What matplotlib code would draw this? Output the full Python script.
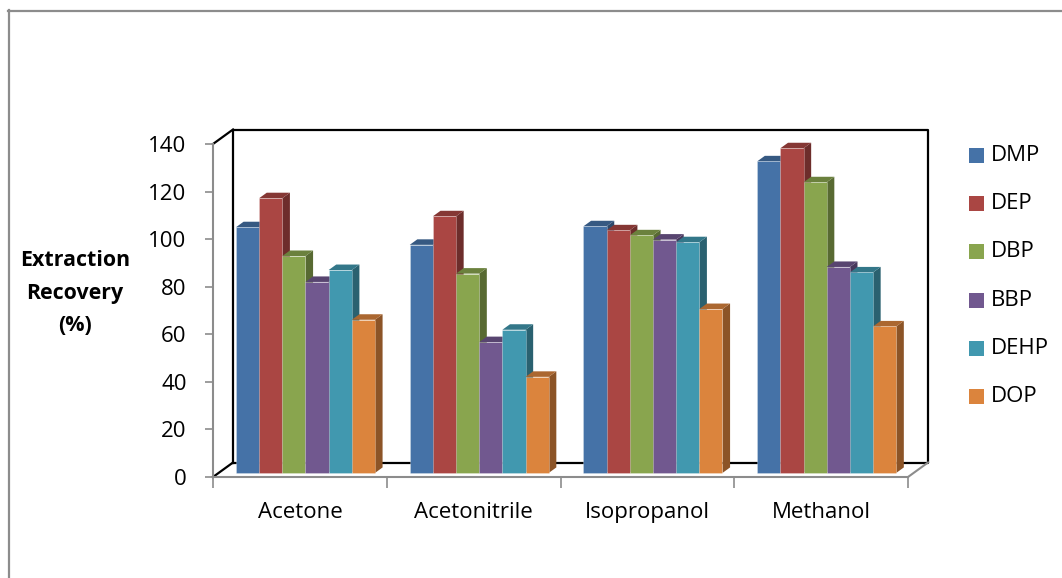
import numpy as np
import matplotlib.pyplot as plt
from matplotlib.patches import Polygon, Rectangle
from matplotlib.lines import Line2D
import matplotlib.colors as mcolors

plt.rcParams['font.family'] = ['Open Sans', 'DejaVu Sans']

solvents = ['Acetone', 'Acetonitrile', 'Isopropanol', 'Methanol']
compounds = ['DMP', 'DEP', 'DBP', 'BBP', 'DEHP', 'DOP']
recovery = {
    'DMP':  [103.3, 95.9, 103.7, 131.0],
    'DEP':  [115.5, 107.9, 102.0, 136.5],
    'DBP':  [91.2, 83.8, 99.9, 122.2],
    'BBP':  [80.3, 55.0, 98.1, 86.6],
    'DEHP': [85.3, 60.2, 97.0, 84.3],
    'DOP':  [64.4, 40.4, 68.9, 61.6],
}
colors = ['#4572A7', '#AA4643', '#89A54E', '#71588F', '#4198AF', '#DB843D']
yticks = [0, 20, 40, 60, 80, 100, 120, 140]

W, H = 1062, 578
fig = plt.figure(figsize=(W / 100, H / 100), dpi=100)

# front plane of the 3D box, in pixels
x_left, x_right, y_bot, y_top = 213, 908, 477, 144
ax = fig.add_axes([x_left / W, (H - y_bot) / H, (x_right - x_left) / W, (y_bot - y_top) / H])
ax.set_xlim(0, 4)
ax.set_ylim(0, 140)

px_x = (x_right - x_left) / 4.0
px_y = (y_bot - y_top) / 140.0
DX = 20 / px_x      # depth offset of the back wall
DY = 14.5 / px_y

grey = '#8c8c8c'
for s in ['top', 'right']:
    ax.spines[s].set_visible(False)
for s in ['left', 'bottom']:
    ax.spines[s].set_color(grey)
    ax.spines[s].set_linewidth(1.5)

ax.set_yticks(yticks)
ax.tick_params(axis='y', direction='out', length=6, width=1.2, color=grey, pad=13,
               labelsize=16)
ax.set_xticks([0, 1, 2, 3, 4])
ax.set_xticklabels([])
ax.tick_params(axis='x', which='major', direction='out', length=8, width=1.2, color=grey)
ax.set_xticks([0.5, 1.5, 2.5, 3.5], minor=True)
ax.set_xticklabels(solvents, minor=True)
ax.tick_params(axis='x', which='minor', length=0, pad=18, labelsize=16)

# back wall and floor edges
kw = dict(color='black', lw=1.6, clip_on=False, zorder=1)
ax.plot([DX, DX, 4 + DX, 4 + DX, DX], [DY, 140 + DY, 140 + DY, DY, DY], **kw)
ax.plot([0, DX], [0, DY], **kw)
ax.plot([0, DX], [140, 140 + DY], **kw)
ax.plot([4, 4 + DX], [0, DY], color=grey, lw=1.5, clip_on=False, zorder=1)


def shade(c, f):
    r, g, b = mcolors.to_rgb(c)
    return (r * f, g * f, b * f)


# bars: front face, top and right side
fx, fy = 0.28 * DX, 0.28 * DY
bx, by = 0.38 * DX, 0.38 * DY
gap = 0.1
w = (1 - 2 * gap) / len(compounds)
for ci in range(len(solvents)):
    for i, name in enumerate(compounds):
        v = recovery[name][ci]
        c = colors[i]
        x0 = ci + gap + i * w + fx
        x1 = x0 + w
        z = 2 + i
        ax.add_patch(Polygon([(x1, fy), (x1 + bx, fy + by), (x1 + bx, v + fy + by), (x1, v + fy)],
                             closed=True, fc=shade(c, 0.64), ec='none', clip_on=False, zorder=z))
        ax.add_patch(Polygon([(x0, v + fy), (x1, v + fy), (x1 + bx, v + fy + by), (x0 + bx, v + fy + by)],
                             closed=True, fc=shade(c, 0.78), ec='none', clip_on=False, zorder=z))
        ax.add_patch(Rectangle((x0, fy), w, v, fc=c, ec=(1, 1, 1, 0.35), lw=0.5,
                               clip_on=False, zorder=z))

# y-axis title
fig.text(75 / W, 1 - 293 / H, 'Extraction\nRecovery\n(%)', ha='center', va='center',
         fontsize=15.4, fontweight='bold', linespacing=1.72)

# legend
for i, name in enumerate(compounds):
    yc = 155.7 + i * 48.1
    fig.patches.append(Rectangle((969 / W, 1 - (yc + 7.5) / H), 15 / W, 15 / H,
                                 transform=fig.transFigure, fc=colors[i], ec='none'))
    fig.text(991 / W, 1 - yc / H, name, ha='left', va='center', fontsize=16)

# chart border
fig.add_artist(Line2D([8.5 / W, 8.5 / W], [0, 1 - 10 / H], color=grey, lw=1.6))
fig.add_artist(Line2D([8 / W, 1], [1 - 10.5 / H, 1 - 10.5 / H], color=grey, lw=1.6))

fig.savefig('out.png', dpi=100)
